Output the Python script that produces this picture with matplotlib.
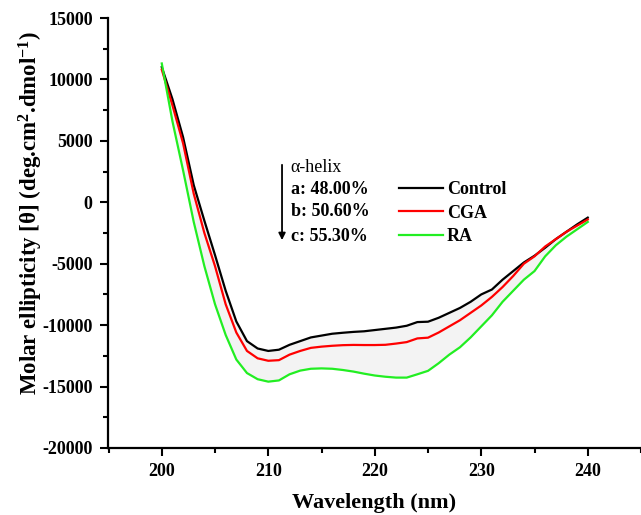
import matplotlib.pyplot as plt
from matplotlib.ticker import MultipleLocator

wavelength = list(range(200, 241))

control = [11000, 8400, 5300, 1400, -1500, -4300, -7200, -9700, -11300, -11900,
           -12100, -12000, -11600, -11300, -11000, -10850, -10700, -10620, -10550, -10500,
           -10400, -10300, -10200, -10050, -9750, -9720, -9400, -9000, -8600, -8100,
           -7500, -7100, -6300, -5600, -4900, -4350, -3700, -3000, -2400, -1800,
           -1250]

cga = [10800, 7900, 4800, 700, -2500, -5200, -8300, -10600, -12100, -12700,
       -12900, -12850, -12400, -12100, -11850, -11750, -11680, -11630, -11610, -11620,
       -11620, -11600, -11500, -11380, -11080, -11020, -10600, -10100, -9600, -9000,
       -8400, -7700, -6900, -6000, -5000, -4400, -3600, -3000, -2400, -1900,
       -1400]

ra = [11300, 6600, 2600, -1600, -5200, -8300, -10800, -12800, -13900, -14400,
      -14600, -14500, -14000, -13700, -13550, -13520, -13550, -13650, -13780, -13950,
      -14100, -14200, -14270, -14270, -14000, -13720, -13100, -12400, -11800, -11000,
      -10100, -9200, -8100, -7200, -6300, -5600, -4400, -3500, -2800, -2200,
      -1600]

helix_labels = ['a: 48.00%', 'b: 50.60%', 'c: 55.30%']

plt.rcParams['font.family'] = ['Liberation Serif', 'DejaVu Serif']
plt.rcParams['font.weight'] = 'bold'
plt.rcParams['axes.unicode_minus'] = False
plt.rcParams['mathtext.fontset'] = 'custom'
plt.rcParams['mathtext.rm'] = 'Liberation Serif:bold'
plt.rcParams['mathtext.default'] = 'rm'

fig = plt.figure(figsize=(6.41, 5.15), dpi=100)
ax = fig.add_axes([108 / 641, 67 / 515, 533 / 641, 430 / 515])

ax.fill_between(wavelength, control, ra, color='#f3f3f3', lw=0)
ax.plot(wavelength, control, color='black', lw=1.6, label='Control')
ax.plot(wavelength, cga, color='#ff0000', lw=1.6, label='CGA')
ax.plot(wavelength, ra, color='#22ee22', lw=1.6, label='RA')

ax.set_xlim(194.95, 245.0)
ax.set_ylim(-20000, 15000)
ax.xaxis.set_major_locator(MultipleLocator(10))
ax.xaxis.set_minor_locator(MultipleLocator(5))
ax.yaxis.set_major_locator(MultipleLocator(5000))
ax.yaxis.set_minor_locator(MultipleLocator(2500))
for s in ['top', 'right']:
    ax.spines[s].set_visible(False)
for s in ['left', 'bottom']:
    ax.spines[s].set_linewidth(1.6)
ax.tick_params(which='major', direction='out', length=6, width=1.5, labelsize=13, pad=5)
ax.tick_params(which='minor', direction='out', length=3.5, width=1.5)
for lab in ax.get_xticklabels() + ax.get_yticklabels():
    lab.set_fontweight('bold')

ax.set_xlabel('Wavelength (nm)', fontsize=16, fontweight='bold', labelpad=9)
ax.set_ylabel('Molar ellipticity [\u03b8] (deg.cm$^{2}$.dmol$^{-1}$)',
              fontsize=16.5, fontweight='bold')
ax.yaxis.set_label_coords(-0.118, 0.547)

# alpha-helix annotation
ax.annotate('', xy=(0.3265, 0.477), xytext=(0.3265, 0.665), xycoords='axes fraction',
            arrowprops=dict(arrowstyle='-|>', color='black', lw=1.3, mutation_scale=10))
ax.text(0.343, 0.653, '\u03b1-helix', transform=ax.transAxes, fontsize=13,
        fontweight='normal', va='center', ha='left')
for i, t in enumerate(helix_labels):
    ax.text(0.343, [0.602, 0.551, 0.493][i], t, transform=ax.transAxes, fontsize=13,
            fontweight='bold', va='center', ha='left')

ax.legend(loc='upper left', bbox_to_anchor=(0.516, 0.658), frameon=False,
          handlelength=2.4, handletextpad=0.25, labelspacing=0.35,
          prop={'size': 13, 'weight': 'bold'})

fig.savefig('out.png', dpi=100)
